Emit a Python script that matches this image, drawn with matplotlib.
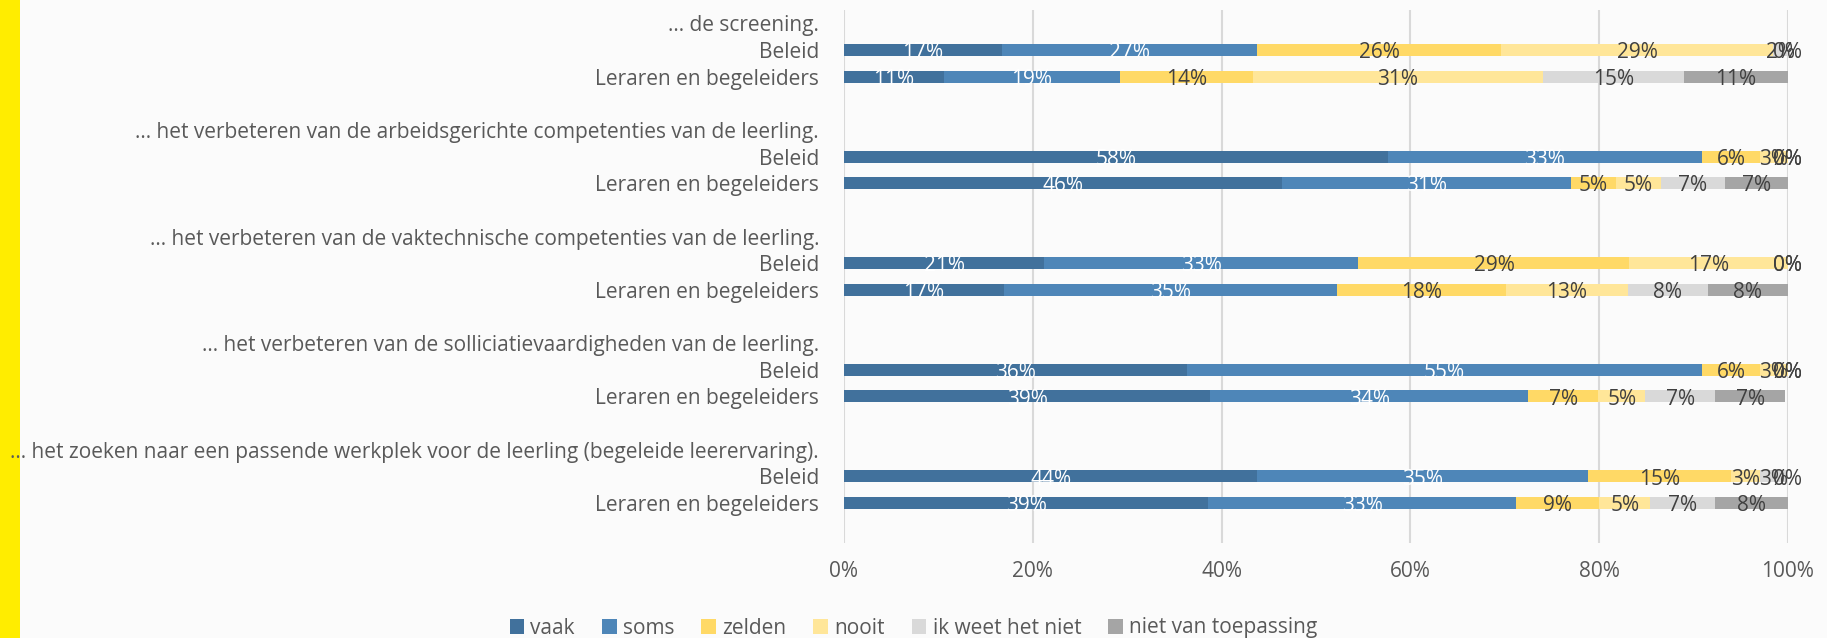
import matplotlib.pyplot as plt
from matplotlib.patches import Rectangle, Patch
import numpy as np

plt.rcParams['font.family'] = ['Open Sans', 'DejaVu Sans']

# survey items (top to bottom) and respondent groups
items = [
    "… de screening.",
    "… het verbeteren van de arbeidsgerichte competenties van de leerling.",
    "… het verbeteren van de vaktechnische competenties van de leerling.",
    "… het verbeteren van de solliciatievaardigheden van de leerling.",
    "… het zoeken naar een passende werkplek voor de leerling (begeleide leerervaring).",
]
groups = ["Beleid", "Leraren en begeleiders"]
series = ["vaak", "soms", "zelden", "nooit", "ik weet het niet", "niet van toepassing"]

# percentages, order: item1 Beleid, item1 Leraren, item2 Beleid, ...
vaak = [16.7, 10.6, 57.6, 46.4, 21.2, 16.9, 36.3, 38.8, 43.8, 38.6]
soms = [27.1, 18.6, 33.3, 30.6, 33.3, 35.3, 54.6, 33.7, 35.0, 32.6]
zelden = [25.8, 14.1, 6.1, 4.8, 28.7, 17.9, 6.1, 7.4, 15.2, 8.8]
nooit = [28.8, 30.7, 3.0, 4.7, 16.8, 12.9, 3.0, 5.0, 3.0, 5.4]
weet_niet = [1.6, 15.0, 0.0, 6.8, 0.0, 8.5, 0.0, 7.4, 3.0, 6.9]
niet_toep = [0.0, 11.0, 0.0, 6.7, 0.0, 8.5, 0.0, 7.4, 0.0, 7.7]

colors = ['#41719C', '#4E86B8', '#FFD966', '#FFE699', '#D9D9D9', '#A5A5A5']
label_colors = ['white', 'white', '#404040', '#404040', '#404040', '#404040']
fs = 15
txt = '#595959'

data = np.array([vaak, soms, zelden, nooit, weet_niet, niet_toep])

# build the row layout: item title, Beleid, Leraren, blank
row_labels = []
bar_rows = []
for i, item in enumerate(items):
    row_labels += [item, groups[0], groups[1], ""]
    bar_rows += [4 * i + 1, 4 * i + 2]

fig = plt.figure(figsize=(18.27, 6.38), dpi=100, facecolor='#FBFBFB')
ax = fig.add_axes([844 / 1827, 1 - 543 / 638, (1788 - 844) / 1827, (543 - 10) / 638])
ax.set_facecolor('#FBFBFB')

fig.patches.append(Rectangle((0, 0), 20 / 1827, 1, transform=fig.transFigure,
                             facecolor='#FFED00', edgecolor='none', zorder=-1))

left = np.zeros(len(bar_rows))
for k in range(len(series)):
    vals = data[k]
    ax.barh(bar_rows, vals, left=left, height=0.45, color=colors[k],
            label=series[k], zorder=2)
    for r, l, v in zip(bar_rows, left, vals):
        ax.text(l + v / 2, r + 0.1, f"{v:.0f}%", ha='center', va='center',
                fontsize=fs, color=label_colors[k], zorder=3)
    left = left + vals

ax.set_xlim(0, 100)
ax.set_ylim(len(row_labels) - 0.5, -0.5)
ax.set_yticks(range(len(row_labels)))
ax.set_yticklabels(row_labels, fontsize=fs, color=txt)
ax.set_xticks(range(0, 101, 20))
ax.set_xticklabels([f"{t}%" for t in range(0, 101, 20)], fontsize=fs, color=txt)
ax.tick_params(axis='y', length=0, pad=18)
ax.tick_params(axis='x', length=0, pad=13)
ax.grid(axis='x', color='#D9D9D9', linewidth=1.5, zorder=0)
ax.set_axisbelow(True)
for s in ax.spines.values():
    s.set_visible(False)

handles = [Patch(facecolor=c, edgecolor='none') for c in colors]
fig.legend(handles, series, loc='center', bbox_to_anchor=(0.5, 1 - 628 / 638),
           ncol=6, frameon=False, fontsize=fs, labelcolor=txt,
           handlelength=0.7, handleheight=0.7, handletextpad=0.3,
           columnspacing=1.3)

fig.savefig('out.png', dpi=100, facecolor=fig.get_facecolor())
